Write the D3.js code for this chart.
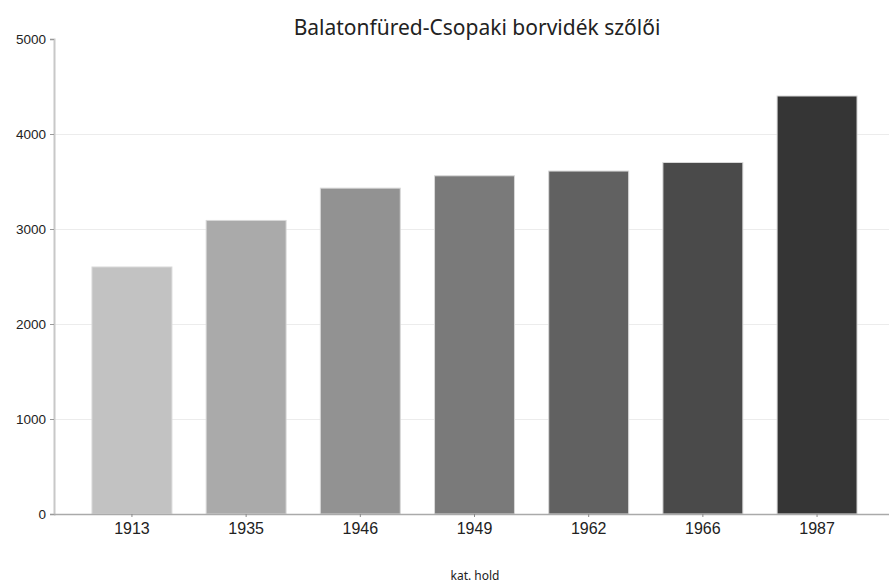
<!DOCTYPE html>
<html>
<head>
<meta charset="utf-8">
<script src="https://cdn.jsdelivr.net/npm/d3@7"></script>
<style>
  body { margin: 0; background: #fff; }
  svg { display: block; font-family: "Noto Sans", "Open Sans", sans-serif; }
</style>
</head>
<body>
<div id="chart"></div>
<script>
var years = ["1913", "1935", "1946", "1949", "1962", "1966", "1987"],
    area = [2600, 3090, 3430, 3560, 3610, 3700, 4400],
    barColors = ["#c2c2c2", "#aaaaaa", "#929292", "#7a7a7a", "#616161", "#4a4a4a", "#353535"],
    yTicks = [0, 1000, 2000, 3000, 4000, 5000],
    title = "Balatonfüred-Csopaki borvidék szőlői",
    unitLabel = "kat. hold";

(function () {
    'use strict';
    var width = 889,
        height = 586,
        left = 54,
        right = 889,
        top = 39,
        bottom = 514,
        data = years.map(function (y, i) {
            return {year: y, value: area[i], color: barColors[i]};
        }),
        svg = d3.select("#chart").append("svg")
            .attr("width", width)
            .attr("height", height),
        x = d3.scaleBand()
            .domain(years)
            .range([60, right])
            .paddingInner(0.3)
            .paddingOuter(0.28),
        y = d3.scaleLinear()
            .domain([0, 5000])
            .range([bottom, top]);

    // horizontal grid
    svg.append("g")
        .selectAll("line")
        .data(yTicks.filter(function (d) { return d > 0 && d < 5000; }))
        .enter()
        .append("line")
        .attr("x1", left)
        .attr("x2", right)
        .attr("y1", function (d) { return y(d) + 0.5; })
        .attr("y2", function (d) { return y(d) + 0.5; })
        .style("stroke", "#ececec")
        .style("stroke-width", 1);

    svg.append("g")
        .selectAll("rect")
        .data(data)
        .enter()
        .append("rect")
        .attr("x", function (d) { return x(d.year); })
        .attr("y", function (d) { return y(d.value); })
        .attr("width", x.bandwidth())
        .attr("height", function (d) { return bottom - y(d.value); })
        .style("fill", function (d) { return d.color; })
        .style("stroke", "#d8d8d8")
        .style("stroke-width", 1);

    var yAxis = svg.append("g")
        .attr("transform", "translate(" + left + ",0)")
        .call(d3.axisLeft(y).tickValues(yTicks).tickFormat(d3.format("d"))
            .tickSize(4).tickPadding(4));
    yAxis.select(".domain").style("stroke", "#c8c8c8").style("stroke-width", 2);
    yAxis.selectAll(".tick line").style("stroke", "#999");
    yAxis.selectAll("text")
        .style("font-size", "13.5px")
        .style("fill", "#222");

    var xAxis = svg.append("g")
        .attr("transform", "translate(0," + bottom + ")")
        .call(d3.axisBottom(x).tickSize(3).tickPadding(6).tickSizeOuter(0));
    xAxis.select(".domain")
        .attr("d", "M" + left + ",0.5H" + right)
        .style("stroke", "#aaa")
        .style("stroke-width", 1.5);
    xAxis.selectAll(".tick line").style("stroke", "#888");
    xAxis.selectAll("text")
        .style("font-size", "16px")
        .style("fill", "#222");

    svg.append("text")
        .attr("x", 477)
        .attr("y", 35)
        .attr("text-anchor", "middle")
        .style("font-size", "21px")
        .style("fill", "#222")
        .text(title);

    svg.append("text")
        .attr("x", 475)
        .attr("y", 580)
        .attr("text-anchor", "middle")
        .style("font-size", "12px")
        .style("fill", "#222")
        .text(unitLabel);
}());
</script>
</body>
</html>
